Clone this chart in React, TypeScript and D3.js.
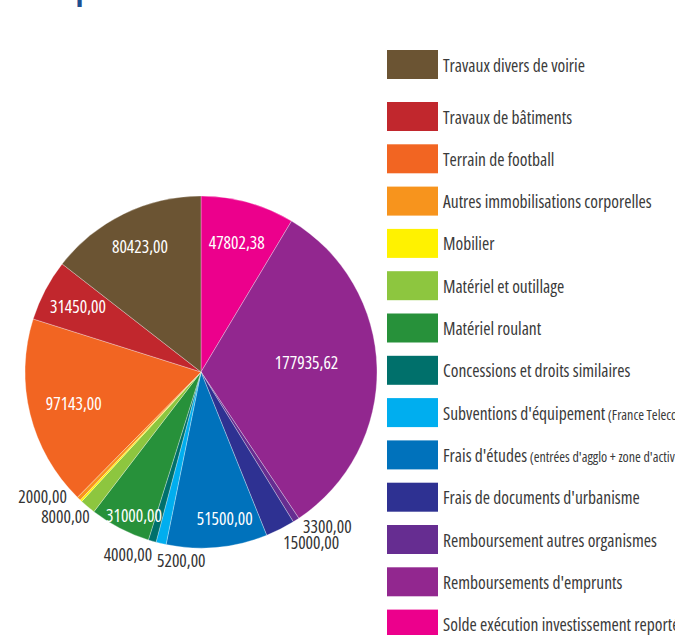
import { useEffect, useRef } from "react";
import * as d3 from "d3";

// categories in legend order (top to bottom)
const categories = [
  "Travaux divers de voirie",
  "Travaux de bâtiments",
  "Terrain de football",
  "Autres immobilisations corporelles",
  "Mobilier",
  "Matériel et outillage",
  "Matériel roulant",
  "Concessions et droits similaires",
  "Subventions d'équipement",
  "Frais d'études",
  "Frais de documents d'urbanisme",
  "Remboursement autres organismes",
  "Remboursements d'emprunts",
  "Solde exécution investissement reporté",
];
const subNotes = ["", "", "", "", "", "", "", "", "(France Telecom)", "(entrées d'agglo + zone d'activités)", "", "", "", ""];
const values = [80423, 31450, 97143, 2000, 1000, 8000, 31000, 4000, 5200, 51500, 15000, 3300, 177935.62, 47802.38];
const valueLabels = ["80423,00", "31450,00", "97143,00", "2000,00", "", "8000,00", "31000,00", "4000,00", "5200,00", "51500,00", "15000,00", "3300,00", "177935,62", "47802,38"];
const colors = ["#6b5433", "#c1272d", "#f26522", "#f7941d", "#fff200", "#8dc63f", "#27913a", "#00706b", "#00aeef", "#0072bc", "#2e3192", "#662d91", "#92278f", "#ec008c"];
// pie goes clockwise from 12 o'clock starting with the last legend item
const pieOrder = [13, 12, 11, 10, 9, 8, 7, 6, 5, 4, 3, 2, 1, 0];

// label placement tweaks: inside -> radius factor, outside -> offset from outer arc point
const labelStyle: Record<number, { r: number; dx: number; dy: number; anchor: string; inside: boolean }> = {
  0: { r: 0.79, dx: 0, dy: 0, anchor: "middle", inside: true },
  1: { r: 0.79, dx: 0, dy: 0, anchor: "middle", inside: true },
  2: { r: 0.745, dx: 0, dy: 0, anchor: "middle", inside: true },
  3: { r: 1, dx: -12, dy: -2, anchor: "end", inside: false },
  5: { r: 1, dx: 2, dy: 10, anchor: "end", inside: false },
  6: { r: 0.9, dx: 6, dy: 3, anchor: "middle", inside: true },
  7: { r: 1, dx: 0, dy: 14, anchor: "end", inside: false },
  8: { r: 1, dx: -4, dy: 17, anchor: "start", inside: false },
  9: { r: 0.85, dx: 10, dy: -2, anchor: "middle", inside: true },
  10: { r: 1, dx: 3, dy: 14, anchor: "start", inside: false },
  11: { r: 1, dx: 7, dy: 7, anchor: "start", inside: false },
  12: { r: 0.6, dx: 0, dy: -7, anchor: "middle", inside: true },
  13: { r: 0.76, dx: 0, dy: 0, anchor: "middle", inside: true },
};

const FONT = "'Open Sans', sans-serif";

const App = () => {
  const ref = useRef<SVGSVGElement | null>(null);

  useEffect(() => {
    const svg = d3.select(ref.current);
    svg.selectAll("*").remove();

    const cx = 201;
    const cy = 372;
    const R = 176;

    // cut-off title at the very top (only a descender shows)
    svg
      .append("text")
      .attr("x", 38)
      .attr("y", 0)
      .attr("font-family", FONT)
      .attr("font-weight", "bold")
      .attr("font-size", 28)
      .attr("fill", "#1d4f91")
      .text("Dépenses d'investissement");

    const data = pieOrder.map((i) => ({ i, value: values[i] }));
    const pie = d3
      .pie<{ i: number; value: number }>()
      .sort(null)
      .value((d) => d.value);
    const arcs = pie(data);
    const arc = d3.arc<d3.PieArcDatum<{ i: number; value: number }>>().innerRadius(0).outerRadius(R);

    const g = svg.append("g").attr("transform", `translate(${cx},${cy})`);

    g.selectAll("path.slice")
      .data(arcs)
      .enter()
      .append("path")
      .attr("class", "slice")
      .attr("d", arc)
      .attr("fill", (d) => colors[d.data.i])
      .attr("stroke", "#ffffff")
      .attr("stroke-opacity", 0.6)
      .attr("stroke-width", 0.5);

    g.selectAll("text.val")
      .data(arcs.filter((d) => valueLabels[d.data.i] !== ""))
      .enter()
      .append("text")
      .attr("class", "val")
      .each(function (d) {
        const st = labelStyle[d.data.i];
        const mid = (d.startAngle + d.endAngle) / 2;
        const r = R * st.r;
        d3.select(this)
          .attr("x", Math.sin(mid) * r + st.dx)
          .attr("y", -Math.cos(mid) * r + st.dy)
          .attr("dy", "0.35em")
          .attr("text-anchor", st.anchor)
          .attr("fill", st.inside ? "#ffffff" : "#333333");
      })
      .attr("font-family", FONT)
      .style("font-stretch", "condensed")
      .attr("font-size", 17.5)
      .text((d) => valueLabels[d.data.i]);

    // legend
    const legendY = (i: number) => (i === 0 ? 50 : 102 + (i - 1) * 42.3);
    const items = svg
      .append("g")
      .selectAll("g.item")
      .data(categories)
      .enter()
      .append("g")
      .attr("class", "item")
      .attr("transform", (_d, i) => `translate(387,${legendY(i)})`);

    items
      .append("rect")
      .attr("width", 51)
      .attr("height", 29)
      .attr("fill", (_d, i) => colors[i]);

    const txt = items
      .append("text")
      .attr("x", 56)
      .attr("y", 21.5)
      .attr("font-family", FONT)
      .style("font-stretch", "condensed")
      .attr("font-size", 17.5)
      .attr("fill", "#3a3a3a");
    txt.append("tspan").text((d) => d);
    txt
      .append("tspan")
      .attr("font-size", 14)
      .text((_d, i) => (subNotes[i] ? " " + subNotes[i] : ""));
  }, []);

  return (
    <svg
      ref={ref}
      width={675}
      height={635}
      style={{ position: "absolute", left: 0, top: 0, background: "#ffffff", overflow: "hidden" }}
    />
  );
};

export default App;
